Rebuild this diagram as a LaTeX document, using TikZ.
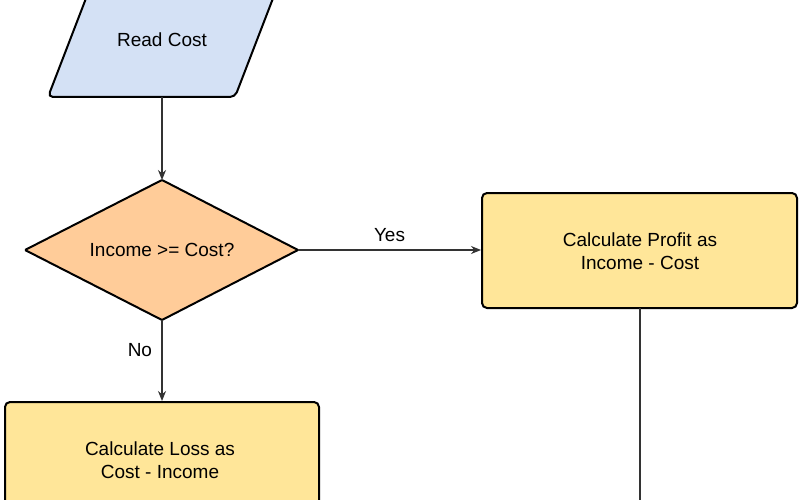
\documentclass[tikz,border=0pt]{standalone}
\usepackage{fontspec}
\setmainfont{Liberation Sans}
\usetikzlibrary{arrows.meta}
\begin{document}
\begin{tikzpicture}[x=1pt,y=-1pt,
  shp/.style={draw=black,line width=2pt,rounded corners=5pt},
  lbl/.style={font=\fontsize{19}{23}\selectfont,align=center},
  con/.style={draw=black!80,line width=1.2pt,-{Stealth[length=10pt,width=8pt]}}]
\useasboundingbox (0,0) rectangle (800,500);
\clip (0,0) rectangle (800,500);
\fill[white] (0,0) rectangle (800,500);
% parallelogram
\draw[shp,fill={rgb,255:red,212;green,225;blue,245}] (48,97) -- (235,97) -- (282,-25) -- (95,-25) -- cycle;
\node[lbl] (read) at (162,40) {Read Cost};
\coordinate (readb) at (162,97);
% diamond
\draw[shp,rounded corners=1pt,fill={rgb,255:red,255;green,204;blue,153}] (162,180) -- (298,250) -- (162,320) -- (25,250) -- cycle;
\node[lbl] (dec) at (162,250) {Income >= Cost?};
\coordinate (dect) at (162,180);
\coordinate (decr) at (298,250);
\coordinate (decb) at (162,320);
% profit box
\draw[shp,fill={rgb,255:red,255;green,230;blue,153}] (482,193) rectangle (797,308);
\node[lbl] (profit) at (640,251) {Calculate Profit as\\Income - Cost};
\coordinate (profl) at (481,250);
\coordinate (profb) at (640,308);
\coordinate (profend) at (640,520);
% loss box
\draw[shp,fill={rgb,255:red,255;green,230;blue,153}] (5,402) rectangle (319,560);
\node[lbl] (loss) at (160,460) {Calculate Loss as\\Cost - Income};
\coordinate (losst) at (162,401);
% connectors
\draw[con] (readb) -- (dect);
\draw[con] (decr) -- node[lbl,above=4pt,pos=0.5] {Yes} (profl);
\draw[con] (decb) -- node[lbl,left=6pt,pos=0.37] {No} (losst);
\draw[draw=black!80,line width=1.2pt] (profb) -- (profend);
\end{tikzpicture}
\end{document}
